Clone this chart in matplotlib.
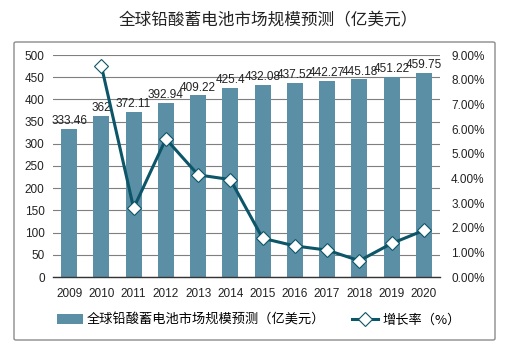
import matplotlib
matplotlib.use("Agg")
import matplotlib.pyplot as plt
from matplotlib.patches import FancyBboxPatch, Patch
from matplotlib.lines import Line2D
from matplotlib.ticker import FuncFormatter, MultipleLocator

plt.rcParams['font.family'] = ['Liberation Sans', 'Noto Sans CJK SC', 'DejaVu Sans']

years = ['2009', '2010', '2011', '2012', '2013', '2014', '2015', '2016', '2017', '2018', '2019', '2020']
market = [333.46, 362, 372.11, 392.94, 409.22, 425.4, 432.08, 437.52, 442.27, 445.18, 451.22, 459.75]
growth = [None, 8.56, 2.79, 5.60, 4.14, 3.95, 1.57, 1.26, 1.09, 0.66, 1.36, 1.89]
labels = ['333.46', '362', '372.11', '392.94', '409.22', '425.4', '432.08', '437.52', '442.27', '445.18', '451.22', '459.75']

bar_color = '#5B8FA6'
line_color = '#0D5568'
W, H = 507, 353
fig = plt.figure(figsize=(W / 100, H / 100), dpi=100)

# outer frame
frame = FancyBboxPatch((14 / W, (H - 340) / H), (495 - 14) / W, (340 - 42) / H,
                       boxstyle='round,pad=0,rounding_size=0.004', transform=fig.transFigure,
                       facecolor='white', edgecolor='#8c8c8c', linewidth=1.0, zorder=-10)
fig.patches.append(frame)

fig.text(268 / W, 1 - 21 / H, '全球铅酸蓄电池市场规模预测（亿美元）', ha='center', va='center',
         fontsize=12, color='#222222', family=['Noto Sans CJK SC', 'DejaVu Sans'])

ax_l, ax_r, ax_t, ax_b = 53, 440, 55, 277
ax = fig.add_axes([ax_l / W, 1 - ax_b / H, (ax_r - ax_l) / W, (ax_b - ax_t) / H])
ax.patch.set_alpha(0)
x = list(range(len(years)))
ax.bar(x, market, width=0.5, color=bar_color, zorder=2)
ax.set_xlim(-0.5, len(years) - 0.5)
ax.set_ylim(0, 500)
ax.yaxis.set_major_locator(MultipleLocator(50))
ax.grid(axis='y', color='#7f7f7f', linewidth=0.8, zorder=0)
ax.set_axisbelow(True)
for s in ['top', 'left', 'right']:
    ax.spines[s].set_visible(False)
ax.spines['bottom'].set_color('#333333')
ax.spines['bottom'].set_linewidth(1.0)
ax.tick_params(length=0, labelsize=8.5, colors='#222222')
ax.tick_params(axis='x', pad=8)
ax.tick_params(axis='y', pad=6)
ax.set_xticks(x)
ax.set_xticklabels(years)
for xi, v, lab in zip(x, market, labels):
    ax.text(xi, v + 4, lab, ha='center', va='bottom', fontsize=8.5, color='#222222', zorder=5)

ax2 = ax.twinx()
ax2.patch.set_alpha(0)
ax2.set_ylim(0, 9)
ax2.yaxis.set_major_locator(MultipleLocator(1))
ax2.yaxis.set_major_formatter(FuncFormatter(lambda v, p: f'{v:.2f}%'))
for s in ['top', 'left', 'right', 'bottom']:
    ax2.spines[s].set_visible(False)
ax2.tick_params(length=0, labelsize=8.5, colors='#222222', pad=8)
gx = [xi for xi, g in zip(x, growth) if g is not None]
gy = [g for g in growth if g is not None]
ax2.plot(gx, gy, color=line_color, linewidth=2.2, marker='D', markersize=7.5,
         markerfacecolor='white', markeredgecolor=line_color, markeredgewidth=0.8, zorder=4)

handles = [Patch(facecolor=bar_color, edgecolor='none'),
           Line2D([0], [0], color=line_color, linewidth=2.2, marker='D', markersize=7,
                  markerfacecolor='white', markeredgecolor=line_color, markeredgewidth=0.8)]
fig.legend(handles, ['全球铅酸蓄电池市场规模预测（亿美元）', '增长率（%）'], loc='center',
           bbox_to_anchor=(0.51, 1 - 320 / H), ncol=2, frameon=False,
           handlelength=2.0, handleheight=0.8, handletextpad=0.3, columnspacing=2.0,
           prop={'family': ['Noto Sans CJK SC', 'DejaVu Sans'], 'size': 9.5})

fig.savefig('out.png', dpi=100)
